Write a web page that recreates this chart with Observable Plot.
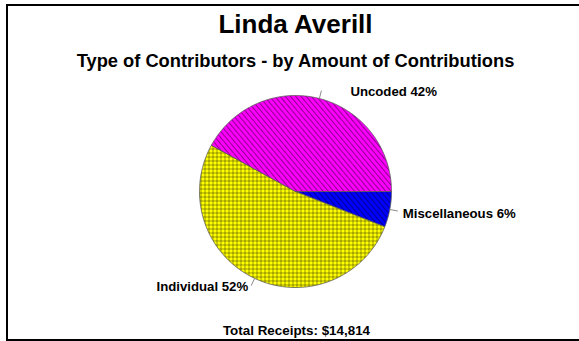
<!DOCTYPE html>
<html><head><meta charset="utf-8">
<script src="https://cdn.jsdelivr.net/npm/d3@7"></script>
<script src="https://cdn.jsdelivr.net/npm/@observablehq/plot@0.6"></script>
<style>
html,body{margin:0;padding:0;background:#fff;overflow:hidden;width:579px;height:341px}
#chart{position:absolute;left:0;top:0}
#frame{position:absolute;left:6px;top:4px;width:600px;height:337px;border:2px solid #000;box-sizing:border-box;pointer-events:none}
</style></head><body>
<div id="chart"></div><div id="frame"></div>
<script>
const title = "Linda Averill";
const subtitle = "Type of Contributors - by Amount of Contributions";
const caption = "Total Receipts: $14,814";
const categories = ["Miscellaneous", "Individual", "Uncoded"];
const percents = [6, 52, 42];
const baseColors = ["#0000FF", "#FFFF00", "#FF00FF"];

// pie geometry from the values (start at 3 o'clock, clockwise)
const arcs = d3.pie().sort(null).startAngle(Math.PI / 2).endAngle(Math.PI / 2 + 2 * Math.PI)(percents);
const pt = (a, r) => [r * Math.sin(a), r * Math.cos(a)];
const sliceRows = [];
arcs.forEach((a, i) => {
  const cat = categories[i];
  sliceRows.push({cat, x: 0, y: 0});
  const n = Math.max(2, Math.ceil((a.endAngle - a.startAngle) / 0.01));
  for (let k = 0; k <= n; k++) {
    const t = a.startAngle + (a.endAngle - a.startAngle) * k / n;
    const [x, y] = pt(t, 1);
    sliceRows.push({cat, x, y});
  }
  sliceRows.push({cat, x: 0, y: 0});
});
const labelRows = arcs.map((a, i) => {
  const m = (a.startAngle + a.endAngle) / 2;
  const [x1, y1] = pt(m, 1.0);
  const [x2, y2] = pt(m, 1.085);
  return {cat: categories[i], label: `${categories[i]} ${percents[i]}%`, x1, y1, x2, y2};
});

const patternIds = ["pBlue", "pYellow", "pMagenta"];
const defsMark = () => {
  const ns = "http://www.w3.org/2000/svg";
  const g = document.createElementNS(ns, "g");
  g.innerHTML = `<defs>
    <pattern id="pMagenta" patternUnits="userSpaceOnUse" width="4" height="4" patternTransform="rotate(-40)">
      <rect width="4" height="4" fill="${baseColors[2]}"/>
      <rect width="1.1" height="4" fill="#000" fill-opacity="0.42"/>
    </pattern>
    <pattern id="pBlue" patternUnits="userSpaceOnUse" width="4" height="4" patternTransform="rotate(-40)">
      <rect width="4" height="4" fill="${baseColors[0]}"/>
      <rect width="1.1" height="4" fill="#000" fill-opacity="0.4"/>
    </pattern>
    <pattern id="pYellow" patternUnits="userSpaceOnUse" width="4" height="4">
      <rect width="4" height="4" fill="${baseColors[1]}"/>
      <rect width="4" height="1" fill="#000" fill-opacity="0.38"/>
      <rect width="1" height="4" fill="#000" fill-opacity="0.38"/>
    </pattern></defs>`;
  return g;
};

const font = "'Liberation Sans', Arial, sans-serif";
const offsets = {Miscellaneous: [5, 3, "start"], Individual: [-3, 1, "end"], Uncoded: [29, 1, "start"]};

const chart = Plot.plot({
  width: 579, height: 341,
  marginLeft: 199, marginRight: 188, marginTop: 95, marginBottom: 54,
  x: {domain: [-1, 1], axis: null},
  y: {domain: [-1, 1], axis: null},
  color: {domain: categories, range: patternIds.map(id => `url(#${id})`)},
  style: {fontFamily: font, background: "transparent", overflow: "visible"},
  marks: [
    defsMark,
    Plot.line(sliceRows, {x: "x", y: "y", z: "cat", fill: "cat", stroke: "#555", strokeWidth: 0.8, curve: "linear"}),
    Plot.link(labelRows, {x1: "x1", y1: "y1", x2: "x2", y2: "y2", stroke: "#8a8a8a", strokeWidth: 1}),
    ...labelRows.map(d => Plot.text([d], {
      x: "x2", y: "y2", text: "label",
      dx: offsets[d.cat][0], dy: offsets[d.cat][1], textAnchor: offsets[d.cat][2],
      fontSize: 13.2, fontWeight: "bold", fill: "#000"
    })),
    Plot.text([title], {frameAnchor: "top", text: d => d, dy: -63, lineAnchor: "bottom", fontSize: 26, fontWeight: "bold", fill: "#000"}),
    Plot.text([subtitle], {frameAnchor: "top", text: d => d, dy: -29, lineAnchor: "bottom", fontSize: 18.3, fontWeight: "bold", fill: "#000"}),
    Plot.text([caption], {frameAnchor: "bottom", text: d => d, dy: 47, dx: 1, lineAnchor: "bottom", fontSize: 13.4, fontWeight: "bold", fill: "#000"})
  ]
});
document.getElementById("chart").appendChild(chart);
</script>
</body></html>
